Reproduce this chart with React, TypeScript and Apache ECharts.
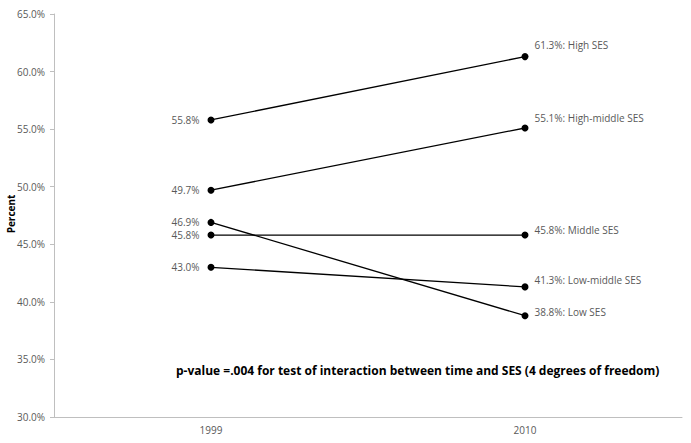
import React, { useEffect, useRef } from "react";
import * as echarts from "echarts";

const years = ["1999", "2010"];
const groupNames = ["High SES", "High-middle SES", "Middle SES", "Low-middle SES", "Low SES"];
const values1999 = [55.8, 49.7, 45.8, 43.0, 46.9];
const values2010 = [61.3, 55.1, 45.8, 41.3, 38.8];
const yTicks = [30, 35, 40, 45, 50, 55, 60, 65];
const yAxisTitle = "Percent";
const note = "p-value =.004 for test of interaction between time and SES (4 degrees of freedom)";

const rightOffsets = [[6, -12], [6, -10], [6, -5], [6, -7], [6, -4]];
const leftOffsets = [[0, 0], [0, 0], [0, 0], [0, 0], [0, 0]];

export default function App() {
  const ref = useRef<HTMLDivElement>(null);
  useEffect(() => {
    if (!ref.current) return;
    const chart = echarts.init(ref.current, undefined, { renderer: "svg" });
    const font = "'Open Sans', 'Noto Sans', sans-serif";
    const series = groupNames.map((name, i) => ({
      type: "line",
      name,
      data: [
        {
          value: values1999[i],
          label: {
            show: true,
            position: "left",
            distance: 8,
            offset: leftOffsets[i],
            formatter: values1999[i].toFixed(1) + "%",
          },
        },
        {
          value: values2010[i],
          label: {
            show: true,
            position: "right",
            distance: 0,
            offset: rightOffsets[i],
            formatter: values2010[i].toFixed(1) + "%: " + name,
          },
        },
      ],
      symbol: "circle",
      symbolSize: 7,
      lineStyle: { color: "#000", width: 1.3 },
      itemStyle: { color: "#000" },
      label: { color: "#595959", fontSize: 10, fontFamily: font },
      emphasis: { disabled: true },
    }));
    chart.setOption({
      animation: false,
      backgroundColor: "#fff",
      grid: {
        left: 54,
        right: 9,
        top: 14,
        bottom: 26,
        containLabel: false,
        outerBoundsMode: "none",
      },
      xAxis: {
        type: "category",
        data: years,
        boundaryGap: true,
        axisLine: { lineStyle: { color: "#bfbfbf", width: 1 } },
        axisTick: { show: false },
        axisLabel: { color: "#595959", fontSize: 10, fontFamily: font, margin: 8 },
      },
      yAxis: {
        type: "value",
        min: yTicks[0],
        max: yTicks[yTicks.length - 1],
        interval: 5,
        axisLine: { show: true, lineStyle: { color: "#bfbfbf", width: 1 } },
        axisTick: { show: true, length: 4, lineStyle: { color: "#bfbfbf" } },
        splitLine: { show: false },
        axisLabel: {
          color: "#595959",
          fontSize: 10,
          fontFamily: font,
          margin: 9,
          formatter: (v: number) => v.toFixed(1) + "%",
        },
      },
      graphic: [
        {
          type: "text",
          x: 11,
          y: 214,
          rotation: Math.PI / 2,
          style: {
            text: yAxisTitle,
            fill: "#000",
            font: "bold 10px " + font,
            textAlign: "center",
            textVerticalAlign: "middle",
          },
        },
        {
          type: "text",
          left: 176,
          top: 364,
          style: {
            text: note,
            fill: "#000",
            font: "bold 12px " + font,
          },
        },
      ],
      series,
    });
    return () => chart.dispose();
  }, []);
  return (
    <div
      ref={ref}
      style={{ position: "absolute", left: 0, top: 0, width: 691, height: 443 }}
    />
  );
}
